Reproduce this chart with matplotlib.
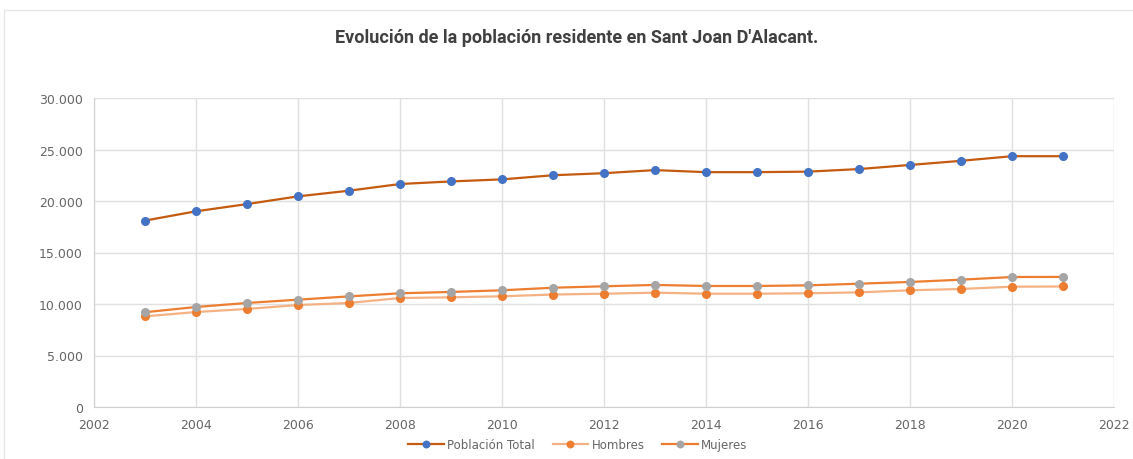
import matplotlib.pyplot as plt
from matplotlib.patches import Rectangle
from matplotlib.ticker import FuncFormatter

years = list(range(2003, 2022))
total = [18100, 19000, 19700, 20450, 21000, 21650, 21900, 22100, 22500, 22700,
         23000, 22800, 22800, 22850, 23100, 23500, 23900, 24350, 24350]
hombres = [8800, 9220, 9520, 9900, 10100, 10580, 10650, 10750, 10920, 11000,
           11100, 11000, 11000, 11040, 11130, 11330, 11460, 11680, 11700]
mujeres = [9200, 9710, 10100, 10420, 10740, 11040, 11170, 11330, 11580, 11720,
           11850, 11750, 11750, 11810, 11970, 12140, 12360, 12620, 12630]

fig = plt.figure(figsize=(11.33, 4.6), dpi=100)
ax = fig.add_axes([94/1133, 1 - 408/460, 1020/1133, 309/460])

# outer chart frame
fig.patches.append(Rectangle((4/1133, -0.02), 1.2, 1 - 11/460 + 0.02,
                             transform=fig.transFigure, fill=False,
                             edgecolor='#e6e6e6', lw=1))

ax.plot(years, total, color='#C55A11', lw=1.6, marker='o', ms=5.5,
        mfc='#4472C4', mec='#4472C4', label='Población Total', zorder=4)
ax.plot(years, hombres, color='#F4B183', lw=1.6, marker='o', ms=5.5,
        mfc='#ED7D31', mec='#ED7D31', label='Hombres', zorder=3)
ax.plot(years, mujeres, color='#ED7D31', lw=1.6, marker='o', ms=5.5,
        mfc='#A5A5A5', mec='#A5A5A5', label='Mujeres', zorder=3)

ax.set_xlim(2002, 2022)
ax.set_ylim(0, 30000)
ax.set_xticks(range(2002, 2023, 2))
ax.set_yticks(range(0, 30001, 5000))
ax.yaxis.set_major_formatter(FuncFormatter(lambda v, p: f'{int(v):,}'.replace(',', '.')))
ax.grid(True, color='#e0e0e0', lw=1)
ax.set_axisbelow(True)
for s in ['top', 'right']:
    ax.spines[s].set_visible(False)
for s in ['left', 'bottom']:
    ax.spines[s].set_color('#d0d0d0')
ax.tick_params(length=0, labelsize=9, labelcolor='#666666', pad=8)

fig.text(0.509, 1 - 38/460, "Evolución de la población residente en Sant Joan D'Alacant.",
         ha='center', va='center', fontsize=13, fontweight='bold',
         family=['Roboto', 'DejaVu Sans'], color='#404040')

fig.legend(loc='center', bbox_to_anchor=(0.51, 1 - 446/460), ncol=3, frameon=False,
           fontsize=8.5, labelcolor='#666666', handlelength=3, columnspacing=1.5,
           handletextpad=0.3, markerscale=0.85)

fig.savefig('out.png', dpi=100)
